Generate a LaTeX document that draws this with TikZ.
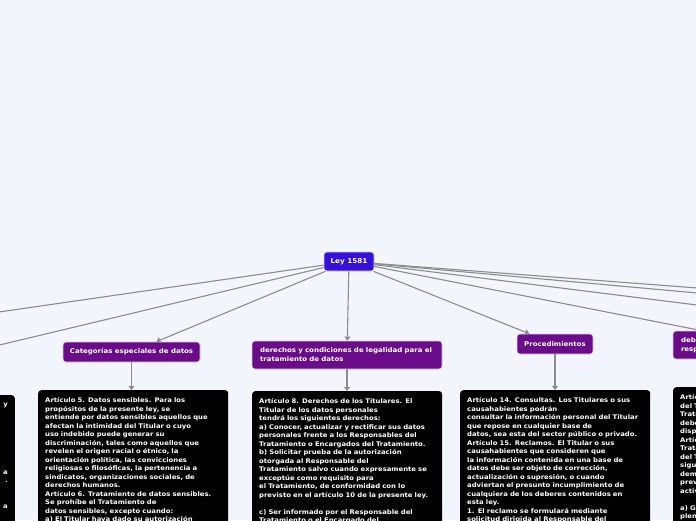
\documentclass[tikz,border=0pt]{standalone}
\usepackage{fontspec}
\setmainfont{DejaVu Sans}[FakeStretch=1.08]
\usetikzlibrary{arrows.meta}
\definecolor{bgc}{HTML}{F3F5FD}
\definecolor{purp}{HTML}{6A0B8A}
\definecolor{rootc}{HTML}{3410DA}
\definecolor{linec}{HTML}{8C8C8C}
\definecolor{bordc}{HTML}{D6CFE4}
\tikzset{
  hdr/.style={fill=purp, draw=bordc, line width=0.7pt, rounded corners=3pt, text=white,
    font=\fontsize{6.5}{9}\selectfont\bfseries, inner sep=0pt},
  rootbox/.style={fill=rootc, draw=bordc, line width=0.7pt, rounded corners=3pt, text=white,
    font=\fontsize{6.7}{9}\selectfont\bfseries, inner sep=0pt},
  txtbox/.style={fill=black, rounded corners=3pt, text=white,
    font=\fontsize{6.35}{8.5}\selectfont\bfseries, align=left, anchor=north west,
    inner xsep=7pt, inner ysep=7.5pt, text width=176pt},
  conn/.style={draw=linec, line width=1.1pt, -{Triangle[width=6pt,length=4pt]}},
  plainln/.style={draw=linec, line width=1.1pt}
}
\begin{document}
\begin{tikzpicture}[x=1pt,y=-1pt]
\useasboundingbox (0,0) rectangle (696,520);
\clip (0,0) rectangle (696,520);
\fill[bgc] (0,0) rectangle (696,520);

% off-screen ends
\coordinate (l1) at (-100,326.3);
\coordinate (l2) at (-100,368.8);
\coordinate (r1) at (800,295.8);
\coordinate (r2) at (800,302.3);
\coordinate (r3) at (800,317.9);

\node[rootbox, minimum width=50pt, minimum height=19pt] (root) at (349,261.5) {Ley 1581};
\node[hdr, minimum width=137pt, minimum height=20pt] (cat) at (131.5,352) {Categorías especiales de datos};
\node[hdr, minimum width=190pt, minimum height=28pt, text width=174pt, align=left] (der) at (347,355) {\mbox{derechos y condiciones de legalidad para el}\\\mbox{tratamiento de datos}};
\node[hdr, minimum width=76pt, minimum height=20pt] (proc) at (555,344) {Procedimientos};
\node[hdr, minimum width=204pt, minimum height=28pt, text width=188pt, align=left] (deb) at (775,345) {deberes de los\\responsables del tratamiento};

\draw[plainln] (root) -- (l1);
\draw[plainln] (root) -- (l2);
\draw[plainln] (root) -- (r1);
\draw[plainln] (root) -- (r2);
\draw[plainln] (root) -- (r3);
\draw[conn] (root) -- (cat);
\draw[conn] (root) -- (der);
\draw[conn] (root) -- (proc);
\draw[conn] (root) -- (deb);

\node[txtbox] (ba) at (38,390) {Artículo 5. Datos sensibles. Para los\\
propósitos de la presente ley, se\\
entiende por datos sensibles aquellos que\\
afectan la intimidad del Titular o cuyo\\
uso indebido puede generar su\\
discriminación, tales como aquellos que\\
revelen el origen racial o étnico, la\\
orientación política, las convicciones\\
religiosas o filosóficas, la pertenencia a\\
sindicatos, organizaciones sociales, de\\
derechos humanos.\\
Artículo 6. Tratamiento de datos sensibles.\\
Se prohíbe el Tratamiento de\\
datos sensibles, excepto cuando:\\
a) El Titular haya dado su autorización\\
explícita a dicho Tratamiento};

\node[txtbox] (bb) at (252,391) {Artículo 8. Derechos de los Titulares. El\\
Titular de los datos personales\\
tendrá los siguientes derechos:\\
a) Conocer, actualizar y rectificar sus datos\\
personales frente a los Responsables del\\
Tratamiento o Encargados del Tratamiento.\\
b) Solicitar prueba de la autorización\\
otorgada al Responsable del\\
Tratamiento salvo cuando expresamente se\\
exceptúe como requisito para\\
el Tratamiento, de conformidad con lo\\
previsto en el artículo 10 de la presente ley.\\[8.5pt]
c) Ser informado por el Responsable del\\
Tratamiento o el Encargado del\\
Tratamiento, previa solicitud};

\node[txtbox] (bc) at (460,390) {Artículo 14. Consultas. Los Titulares o sus\\
causahabientes podrán\\
consultar la información personal del Titular\\
que repose en cualquier base de\\
datos, sea esta del sector público o privado.\\
Artículo 15. Reclamos. El Titular o sus\\
causahabientes que consideren que\\
la información contenida en una base de\\
datos debe ser objeto de corrección,\\
actualización o supresión, o cuando\\
adviertan el presunto incumplimiento de\\
cualquiera de los deberes contenidos en\\
esta ley.\\
1. El reclamo se formulará mediante\\
solicitud dirigida al Responsable del\\
Tratamiento};

\node[txtbox, text width=210pt] (bd) at (673,387) {Artículo 17. Deberes de los Responsables\\
del Tratamiento. Los Responsables del\\
Tratamiento deberán cumplir los siguientes\\
deberes, sin perjuicio de las demás\\
disposiciones previstas en la presente ley.\\
Artículo 18. Deberes de los Encargados del\\
Tratamiento. Los Encargados\\
del Tratamiento deberán cumplir los\\
siguientes deberes, sin perjuicio de las\\
demás disposiciones\\
previstas en la presente ley y en otras que\\
actividad:\\[8.5pt]
a) Garantizar al Titular, en todo tiempo, el\\
pleno y efectivo ejercicio del derecho de\\
hábeas data};

\node[txtbox, anchor=north east, align=right] (be) at (15,395) {y\\ \mbox{}\\ \mbox{}\\ \mbox{}\\ \mbox{}\\ \mbox{}\\ \mbox{}\\ \mbox{}\\ a\\ .\\ \mbox{}\\ \mbox{}\\ a\\ \mbox{}};

\draw[conn] (cat.south) -- (cat.south |- ba.north);
\draw[conn] (der.south) -- (der.south |- bb.north);
\draw[conn] (proc.south) -- (proc.south |- bc.north);
\draw[conn] (deb.south) -- (deb.south |- bd.north);
\end{tikzpicture}
\end{document}
